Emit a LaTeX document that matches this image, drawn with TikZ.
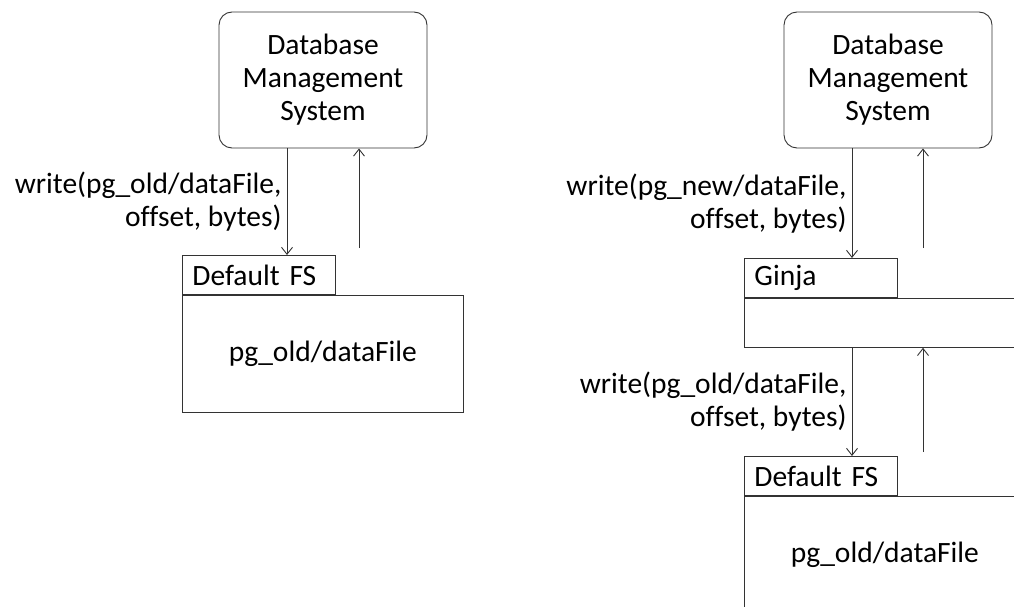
\documentclass[tikz,border=0pt]{standalone}
\usepackage{fontspec}
\setmainfont{Carlito}[Ligatures=NoCommon]
\usetikzlibrary{arrows.meta,positioning,calc}

\begin{document}
\begin{tikzpicture}[x=1pt, y=-1pt, >={Straight Barb[length=7pt,width=11pt]},
    every node/.style={font=\fontsize{29.5}{33}\selectfont},
    dbms/.style={draw=black!80, line width=0.9pt, rounded corners=13pt, minimum width=208pt, minimum height=136pt, align=center},
    fstab/.style={draw=black!80, line width=0.9pt, anchor=north west, text width=133pt, inner xsep=10pt, inner ysep=2pt, minimum height=39pt, align=left},
    fsbox/.style={draw=black!80, line width=0.9pt, anchor=north west, minimum width=281pt},
    link/.style={->, black!80, line width=0.9pt},
    call/.style={midway, left, align=right, inner xsep=5pt, text=black}]
    \clip (0,0) rectangle (1014,607);

    % plain setup
    \node[dbms] (dbmsA) at (323,80) {Database\\Management\\System};
    \node[fstab] (tabA) at (182,255) {Default FS};
    \node[fsbox, minimum height=117pt] (fsA) at (tabA.south west) {pg\_old/dataFile};
    \coordinate (downA) at ([xshift=-36pt]dbmsA.south);
    \coordinate (upA) at ([xshift=36pt]dbmsA.south);
    \draw[link] (downA) -- (downA |- tabA.north) node[call] {write(pg\_old/dataFile,\\offset, bytes)};
    \draw[link] ($(upA |- tabA.north)+(0,-7)$) -- (upA);

    % with Ginja in between
    \node[dbms] (dbmsB) at (888,80) {Database\\Management\\System};
    \node[fstab] (tabB) at (744,258) {Ginja};
    \node[fsbox, minimum height=49pt] (ginja) at (tabB.south west) {};
    \coordinate (downB) at ([xshift=-36pt]dbmsB.south);
    \coordinate (upB) at ([xshift=35pt]dbmsB.south);
    \draw[link] (downB) -- (downB |- tabB.north) node[call] {write(pg\_new/dataFile,\\offset, bytes)};
    \draw[link] ($(upB |- tabB.north)+(0,-10)$) -- (upB);

    \node[fstab] (tabC) at (744,456) {Default FS};
    \node[fsbox, minimum height=117pt] (fsC) at (tabC.south west) {pg\_old/dataFile};
    \coordinate (downC) at (downB |- ginja.south);
    \coordinate (upC) at (upB |- ginja.south);
    \draw[link] (downC) -- (downC |- tabC.north) node[call] {write(pg\_old/dataFile,\\offset, bytes)};
    \draw[link] ($(upC |- tabC.north)+(0,-4)$) -- (upC);
\end{tikzpicture}
\end{document}
